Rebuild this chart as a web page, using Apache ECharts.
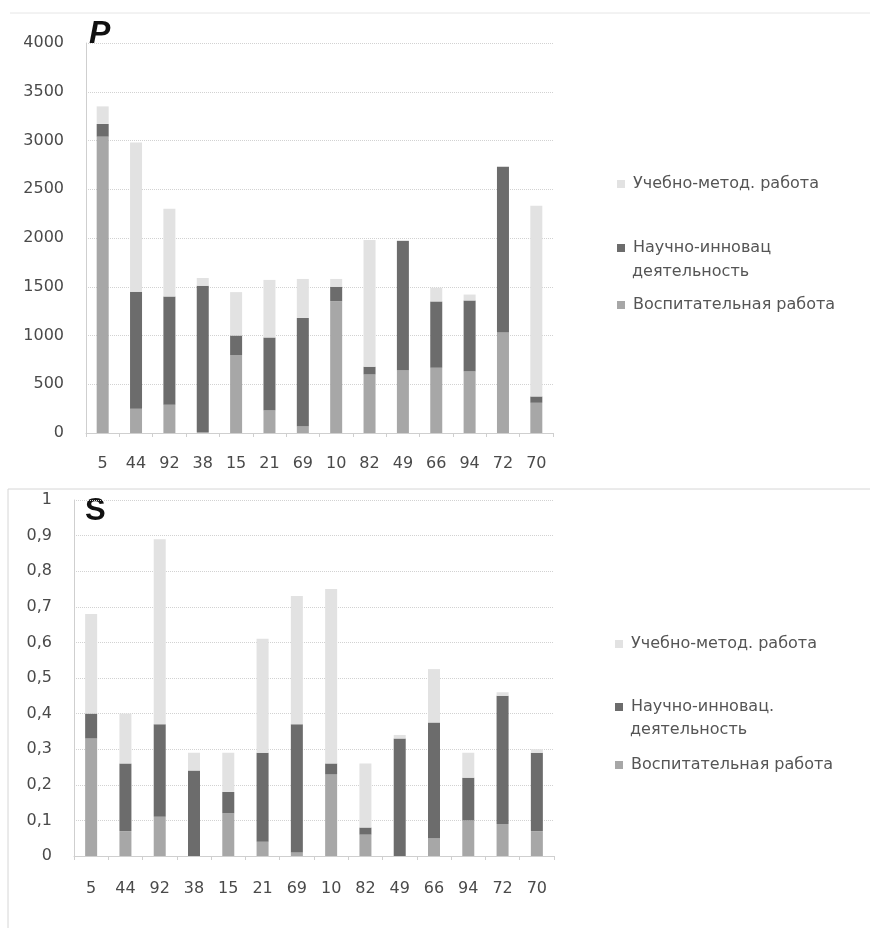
<!DOCTYPE html>
<html>
<head>
<meta charset="utf-8">
<script src="https://cdn.jsdelivr.net/npm/echarts@6/dist/echarts.min.js"></script>
<style>
html,body{margin:0;padding:0;background:#fff;}
#c{width:873px;height:928px;}
</style>
</head>
<body>
<div id="c"></div>
<script>
const categories = ['5','44','92','38','15','21','69','10','82','49','66','94','72','70'];

// Chart P
const pVosp   = [3040, 250, 290, 10, 800, 230, 70, 1350, 600, 640, 670, 630, 1030, 310];
const pNauch  = [130, 1200, 1110, 1500, 200, 750, 1110, 150, 80, 1330, 680, 730, 1700, 65];
const pUcheb  = [180, 1530, 900, 80, 445, 590, 400, 80, 1300, 10, 140, 60, 0, 1955];

// Chart S
const sVosp   = [0.33, 0.07, 0.11, 0, 0.12, 0.04, 0.01, 0.23, 0.06, 0, 0.05, 0.10, 0.09, 0.07];
const sNauch  = [0.07, 0.19, 0.26, 0.24, 0.06, 0.25, 0.36, 0.03, 0.02, 0.33, 0.325, 0.12, 0.36, 0.22];
const sUcheb  = [0.28, 0.14, 0.52, 0.05, 0.11, 0.32, 0.36, 0.49, 0.18, 0.01, 0.15, 0.07, 0.01, 0.01];

const nameU = 'Учебно-метод. работа';
const nameV = 'Воспитательная работа';
const nameNTop = 'Научно-инновац';
const nameNBot = 'Научно-инновац.';
const nameNLine2 = 'деятельность';

const colV = '#a7a7a7', colN = '#6c6c6c', colU = '#e2e2e2';
const txt = '#555';
const font = 'DejaVu Sans';

const chart = echarts.init(document.getElementById('c'));

function legendItem(name, left, top){
  return {
    left: left, top: top, orient: 'vertical', selectedMode: false,
    itemWidth: 8, itemHeight: 8, icon: 'rect',
    data: [name],
    textStyle: {color: txt, fontFamily: font, fontSize: 16, lineHeight: 23, padding: [0,0,0,3]}
  };
}

function yAxisBase(gridIndex, max, interval, fmt){
  return {
    type: 'value', gridIndex: gridIndex, min: 0, max: max, interval: interval,
    axisLine: {show: true, lineStyle: {color: '#cfcfcf'}},
    axisTick: {show: false},
    splitLine: {show: true, lineStyle: {color: '#d2d2d2', type: 'dotted'}},
    axisLabel: {color: '#4a4a4a', fontFamily: font, fontSize: 16, margin: 22, formatter: fmt}
  };
}
function xAxisBase(gridIndex, margin){
  return {
    type: 'category', gridIndex: gridIndex, data: categories,
    axisLine: {show: true, lineStyle: {color: '#cfcfcf'}},
    axisTick: {show: true, length: 4, lineStyle: {color: '#cfcfcf'}},
    axisLabel: {color: '#4a4a4a', fontFamily: font, fontSize: 16, margin: margin, interval: 0}
  };
}
function bar(name, data, color, xi, stack){
  return {name: name, type: 'bar', stack: stack, data: data, xAxisIndex: xi, yAxisIndex: xi,
    barWidth: 12, itemStyle: {color: color}, emphasis: {disabled: true}};
}

chart.setOption({
  animation: false,
  backgroundColor: '#fff',
  grid: [
    {left: 86, right: 320, top: 43, bottom: 495},
    {left: 74, right: 319, top: 500, bottom: 72}
  ],
  xAxis: [xAxisBase(0, 23), xAxisBase(1, 25)],
  yAxis: [
    yAxisBase(0, 4000, 500, v => String(v)),
    yAxisBase(1, 1, 0.1, v => String(+v.toFixed(1)).replace('.', ','))
  ],
  legend: [
    legendItem(nameU, 612, 167.5),
    legendItem(nameNTop, 612, 231.5),
    legendItem(nameV, 612, 288.5),
    legendItem(nameU, 610, 627.5),
    legendItem(nameNBot, 610, 690.5),
    legendItem(nameV, 610, 748.5)
  ],
  series: [
    bar(nameV, pVosp, colV, 0, 'p'),
    bar(nameNTop, pNauch, colN, 0, 'p'),
    bar(nameU, pUcheb, colU, 0, 'p'),
    bar(nameV, sVosp, colV, 1, 's'),
    bar(nameNBot, sNauch, colN, 1, 's'),
    bar(nameU, sUcheb, colU, 1, 's')
  ],
  graphic: [
    {type: 'text', left: 89, top: 18, style: {text: 'P', font: 'italic bold 32px "Liberation Sans"', fill: '#111'}},
    {type: 'text', left: 85, top: 496, style: {text: 'S', font: 'bold 31px "Liberation Sans"', fill: '#111'}},
    {type: 'text', left: 632, top: 264, style: {text: nameNLine2, font: '16px "DejaVu Sans"', fill: txt}},
    {type: 'text', left: 630, top: 722, style: {text: nameNLine2, font: '16px "DejaVu Sans"', fill: txt}},
    {type: 'line', shape: {x1: 10, y1: 13, x2: 870, y2: 13}, style: {stroke: '#e6e6e6', lineWidth: 1}},
    {type: 'line', shape: {x1: 8, y1: 489, x2: 870, y2: 489}, style: {stroke: '#d6d6d6', lineWidth: 1}},
    {type: 'line', shape: {x1: 8, y1: 489, x2: 8, y2: 928}, style: {stroke: '#d6d6d6', lineWidth: 1}}
  ]
});
</script>
</body>
</html>
